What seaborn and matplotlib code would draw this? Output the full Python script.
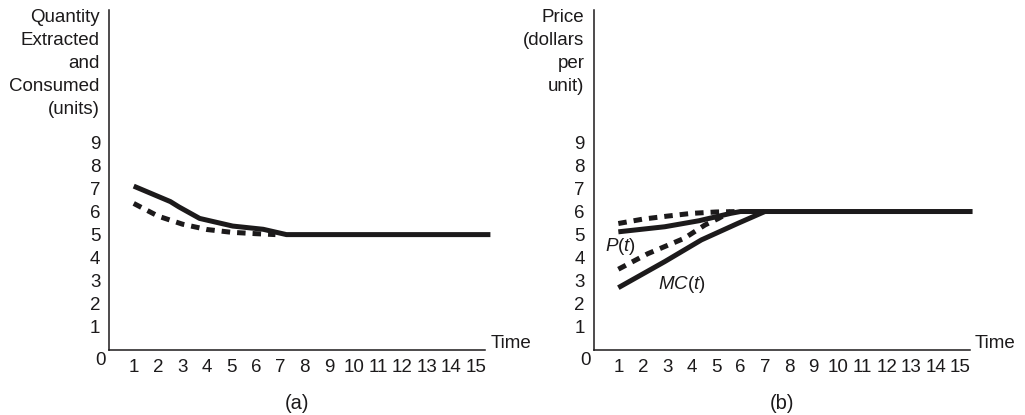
import matplotlib
matplotlib.use("Agg")
import matplotlib.pyplot as plt
import seaborn as sns
import pandas as pd

# ---------------- data ----------------
time_ticks = list(range(1, 16))
value_ticks = list(range(1, 10))

# panel (a): quantity extracted and consumed
a_solid_time = [1, 2.5, 2.85, 3.7, 5.05, 6.3, 7.25, 15.6]
a_solid_qty = [7.1, 6.43, 6.2, 5.7, 5.37, 5.23, 5.0, 5.0]
a_dash_time = [1, 2, 3, 4, 5, 6, 6.8]
a_dash_qty = [6.35, 5.8, 5.45, 5.22, 5.1, 5.04, 5.0]

# panel (b): price and marginal cost
b_p_solid_time = [1, 2.9, 4.3, 5.6, 6.0, 15.5]
b_p_solid_price = [5.12, 5.34, 5.6, 5.92, 6.0, 6.0]
b_p_dash_time = [1, 2, 3, 4, 5, 6]
b_p_dash_price = [5.48, 5.67, 5.8, 5.92, 5.98, 6.0]
b_mc_solid_time = [1, 2.9, 4.4, 5.9, 7.0]
b_mc_solid_cost = [2.7, 3.83, 4.77, 5.49, 6.0]
b_mc_dash_time = [1, 2.2, 3.7, 4.55, 5.1, 5.6]
b_mc_dash_cost = [3.5, 4.17, 4.84, 5.42, 5.7, 6.0]

ylabel_a = "Quantity\nExtracted\nand\nConsumed\n(units)"
ylabel_b = "Price\n(dollars\nper\nunit)"
xlabel = "Time"
panel_a = "(a)"
panel_b = "(b)"
label_p = "$P(t)$"
label_mc = "$MC(t)$"

# ---------------- style ----------------
sns.set_theme(style="white")
plt.rcParams["font.family"] = ["Liberation Sans", "DejaVu Sans"]
plt.rcParams["mathtext.fontset"] = "custom"
plt.rcParams["mathtext.rm"] = "Liberation Sans"
plt.rcParams["mathtext.it"] = "Liberation Sans:italic"

INK = "#1c1a1b"
LW = 3.6
DASH = (0, (1.7, 1.4))
FS = 13.5

W, H = 1025, 415
fig = plt.figure(figsize=(W / 100, H / 100), dpi=100)

XMAX = 15.8
YMAX = 14.73
UNIT_X = 24.43
UNIT_Y = 23.08
SPINE_END = 15.39


def make_axes(x0px):
    left = x0px / W
    bottom = (H - 350) / H
    width = XMAX * UNIT_X / W
    height = YMAX * UNIT_Y / H
    ax = fig.add_axes([left, bottom, width, height])
    ax.set_xlim(0, XMAX)
    ax.set_ylim(0, YMAX)
    for s in ("top", "right"):
        ax.spines[s].set_visible(False)
    for s in ("left", "bottom"):
        ax.spines[s].set_color(INK)
        ax.spines[s].set_linewidth(1.1)
    ax.spines["bottom"].set_bounds(0, SPINE_END)
    ax.set_xticks(time_ticks)
    ax.set_xticklabels([str(t) for t in time_ticks])
    ax.set_yticks(value_ticks)
    ax.set_yticklabels([str(v) for v in value_ticks])
    ax.tick_params(axis="both", direction="in", length=5.5, width=1.0,
                   color=INK, labelcolor=INK, labelsize=FS)
    ax.tick_params(axis="x", pad=6.8)
    ax.tick_params(axis="y", pad=6.5)
    ax.grid(False)
    ax.set_facecolor("none")
    ax.annotate("0", xy=(0, 0), xycoords="data", xytext=(-8.5, -10),
                textcoords="offset pixels", ha="center", va="center",
                fontsize=FS, color=INK)
    ax.annotate(xlabel, xy=(SPINE_END, 0), xycoords="data", xytext=(5, 7),
                textcoords="offset pixels", ha="left", va="center",
                fontsize=FS, color=INK)
    return ax


def draw(ax, xs, ys, dashed):
    df = pd.DataFrame({"t": xs, "v": ys})
    kw = dict(color=INK, linewidth=LW, solid_capstyle="butt",
              solid_joinstyle="round")
    if dashed:
        kw["linestyle"] = DASH
        kw["dash_capstyle"] = "butt"
    sns.lineplot(data=df, x="t", y="v", ax=ax, sort=False, estimator=None,
                 legend=False, **kw)
    ax.set_xlabel("")
    ax.set_ylabel("")


def side_label(ax, text):
    ax.annotate(text, xy=(0, 1), xycoords="axes fraction", xytext=(-9.5, 1.5),
                textcoords="offset pixels", ha="right", va="top",
                multialignment="right", linespacing=1.47, fontsize=FS,
                color=INK)


def panel_label(ax, text):
    ax.annotate(text, xy=(SPINE_END / 2, 0), xycoords="data", xytext=(0, -53),
                textcoords="offset pixels", ha="center", va="center",
                fontsize=14.5, color=INK)


# ---------------- panel (a) ----------------
ax1 = make_axes(109.3)
draw(ax1, a_dash_time, a_dash_qty, True)
draw(ax1, a_solid_time, a_solid_qty, False)
side_label(ax1, ylabel_a)
panel_label(ax1, panel_a)

# ---------------- panel (b) ----------------
ax2 = make_axes(593.9)
draw(ax2, b_p_dash_time, b_p_dash_price, True)
draw(ax2, b_mc_dash_time, b_mc_dash_cost, True)
draw(ax2, b_mc_solid_time, b_mc_solid_cost, False)
draw(ax2, b_p_solid_time, b_p_solid_price, False)
side_label(ax2, ylabel_b)
panel_label(ax2, panel_b)
ax2.text(1.07, 4.48, label_p, ha="center", va="center", fontsize=FS, color=INK)
ax2.text(3.59, 2.82, label_mc, ha="center", va="center", fontsize=FS, color=INK)

fig.savefig("out.png", dpi=100, facecolor="white")
